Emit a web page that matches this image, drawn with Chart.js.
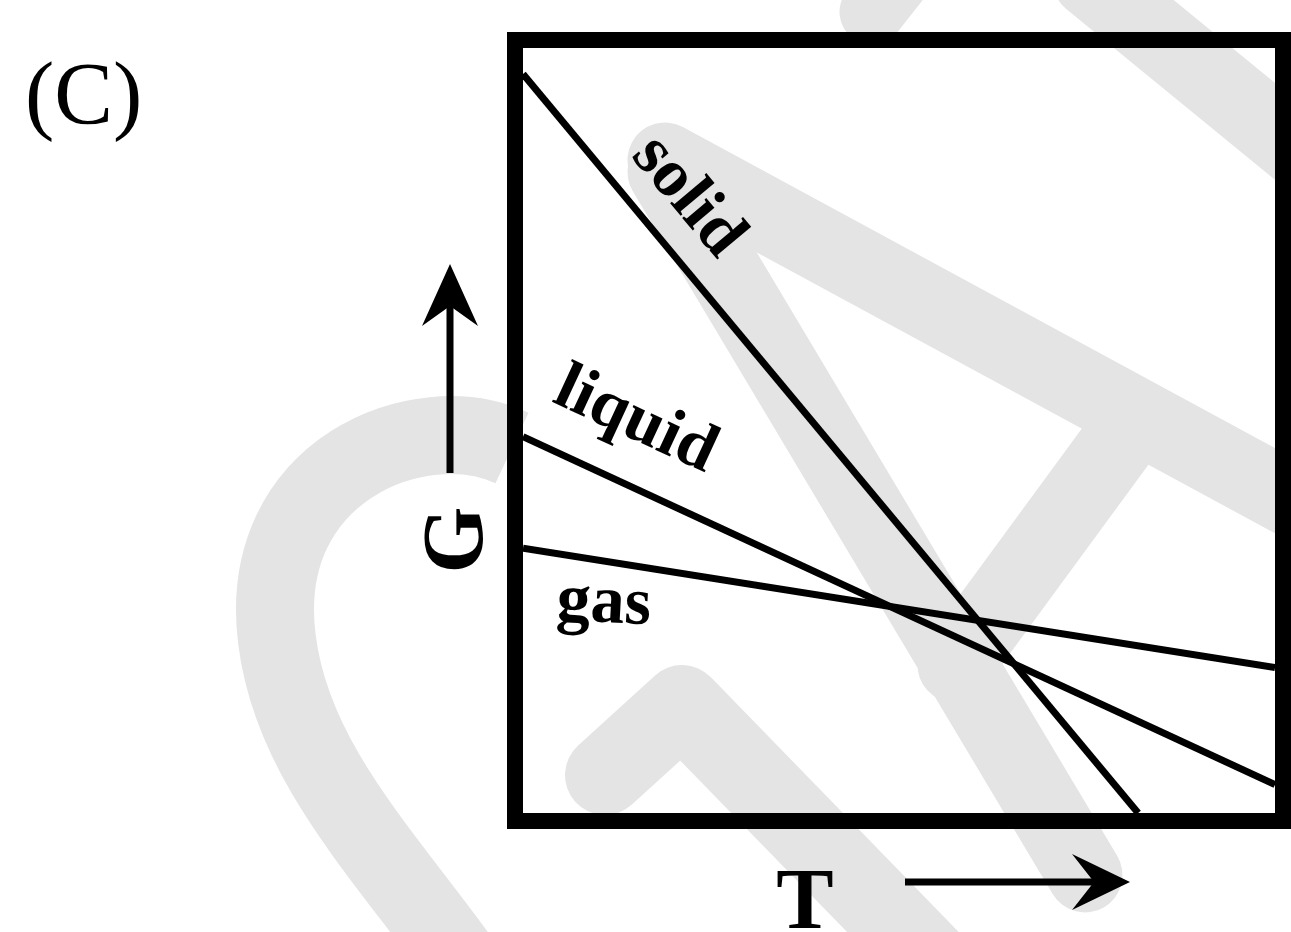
<!DOCTYPE html>
<html>
<head>
<meta charset="utf-8">
<script src="https://cdn.jsdelivr.net/npm/chart.js@4"></script>
<style>
  html, body { margin: 0; padding: 0; background: #fff; }
  canvas { display: block; }
</style>
</head>
<body>
<canvas id="chart" width="1291" height="932"></canvas>
<script>
// T runs 0..100 across the box, G runs 0..100 up the box
const solidT = [0, 81.8];
const solidG = [96.6, 0];
const liquidT = [0, 100];
const liquidG = [49.2, 3.7];
const gasT = [0, 100];
const gasG = [34.6, 19.0];
const phaseNames = ['solid', 'liquid', 'gas'];

const SERIF = '"Liberation Serif", "Times New Roman", Times, serif';

const toPoints = (xs, ys) => xs.map((x, i) => ({ x: x, y: ys[i] }));

// faint logo in the background of the scan
const watermark = {
  id: 'watermark',
  beforeDraw(chart) {
    const ctx = chart.ctx;
    ctx.save();
    ctx.strokeStyle = '#e4e4e4';
    ctx.lineJoin = 'round';

    // big curl on the left, cut off by the box
    ctx.lineCap = 'butt';
    ctx.lineWidth = 78;
    ctx.beginPath();
    ctx.moveTo(512, 448);
    ctx.bezierCurveTo(420, 405, 255, 470, 277, 640);
    ctx.bezierCurveTo(292, 760, 380, 850, 460, 960);
    ctx.stroke();

    ctx.lineCap = 'round';
    ctx.lineWidth = 80;
    // chevron at the bottom
    ctx.beginPath();
    ctx.moveTo(605, 775);
    ctx.lineTo(682, 705);
    ctx.lineTo(935, 965);
    ctx.stroke();

    // the two legs from the top left
    ctx.lineWidth = 75;
    ctx.beginPath();
    ctx.moveTo(665, 172);
    ctx.lineTo(1085, 875);
    ctx.stroke();
    ctx.beginPath();
    ctx.moveTo(665, 160);
    ctx.lineTo(1320, 515);
    ctx.stroke();

    // crossbar
    ctx.beginPath();
    ctx.moveTo(1120, 440);
    ctx.lineTo(955, 665);
    ctx.stroke();

    // top right and top strip
    ctx.beginPath();
    ctx.moveTo(1090, -20);
    ctx.lineTo(1310, 160);
    ctx.stroke();
    ctx.lineWidth = 65;
    ctx.beginPath();
    ctx.moveTo(905, -30);
    ctx.lineTo(872, 12);
    ctx.stroke();
    ctx.restore();
  }
};

const frame = {
  id: 'frame',
  afterDraw(chart) {
    const ctx = chart.ctx;
    const a = chart.chartArea;
    ctx.save();

    // thick box
    ctx.strokeStyle = '#000';
    ctx.lineWidth = 16;
    ctx.strokeRect(a.left - 8, a.top - 8, a.right - a.left + 16, a.bottom - a.top + 16);

    ctx.fillStyle = '#000';
    // panel letter
    ctx.font = '88px ' + SERIF;
    ctx.textAlign = 'left';
    ctx.textBaseline = 'alphabetic';
    ctx.fillText('(C)', 25, 123);

    // phase labels, parallel to their lines
    ctx.font = 'bold 68px ' + SERIF;
    ctx.textAlign = 'center';
    const lbl = (txt, px, py, deg) => {
      ctx.save();
      ctx.translate(px, py);
      ctx.rotate(deg * Math.PI / 180);
      ctx.fillText(txt, 0, 0);
      ctx.restore();
    };
    lbl(phaseNames[0], 674, 208, 50);
    lbl(phaseNames[1], 628, 437, 24.8);
    lbl(phaseNames[2], 603, 622, 3);

    // axis names
    ctx.font = 'bold 86px ' + SERIF;
    ctx.fillText('T', 805, 928);
    ctx.save();
    ctx.translate(482, 540);
    ctx.rotate(-Math.PI / 2);
    ctx.fillText('G', 0, 0);
    ctx.restore();

    // arrows
    ctx.lineWidth = 7;
    ctx.lineCap = 'butt';
    ctx.beginPath();
    ctx.moveTo(450, 473);
    ctx.lineTo(450, 300);
    ctx.stroke();
    ctx.beginPath();
    ctx.moveTo(450, 264);
    ctx.lineTo(478, 326);
    ctx.lineTo(450, 306);
    ctx.lineTo(422, 326);
    ctx.closePath();
    ctx.fill();

    ctx.beginPath();
    ctx.moveTo(905, 882);
    ctx.lineTo(1095, 882);
    ctx.stroke();
    ctx.beginPath();
    ctx.moveTo(1130, 882);
    ctx.lineTo(1072, 910);
    ctx.lineTo(1094, 882);
    ctx.lineTo(1072, 854);
    ctx.closePath();
    ctx.fill();

    ctx.restore();
  }
};

const lineStyle = {
  showLine: true,
  borderColor: '#000',
  backgroundColor: '#000',
  borderWidth: 7,
  pointRadius: 0,
  fill: false
};

function draw() {
  new Chart(document.getElementById('chart'), {
    type: 'scatter',
    data: {
      datasets: [
        Object.assign({ label: phaseNames[0], data: toPoints(solidT, solidG) }, lineStyle),
        Object.assign({ label: phaseNames[1], data: toPoints(liquidT, liquidG) }, lineStyle),
        Object.assign({ label: phaseNames[2], data: toPoints(gasT, gasG) }, lineStyle)
      ]
    },
    options: {
      responsive: false,
      animation: false,
      layout: { padding: { left: 523, top: 48, right: 16, bottom: 119 } },
      scales: {
        x: { type: 'linear', min: 0, max: 100, display: false },
        y: { type: 'linear', min: 0, max: 100, display: false }
      },
      plugins: {
        legend: { display: false },
        tooltip: { enabled: false }
      }
    },
    plugins: [watermark, frame]
  });
}

// make sure the serif faces are ready before painting
Promise.all([
  document.fonts.load('88px "Liberation Serif"'),
  document.fonts.load('bold 68px "Liberation Serif"')
]).then(draw, draw);
</script>
</body>
</html>
